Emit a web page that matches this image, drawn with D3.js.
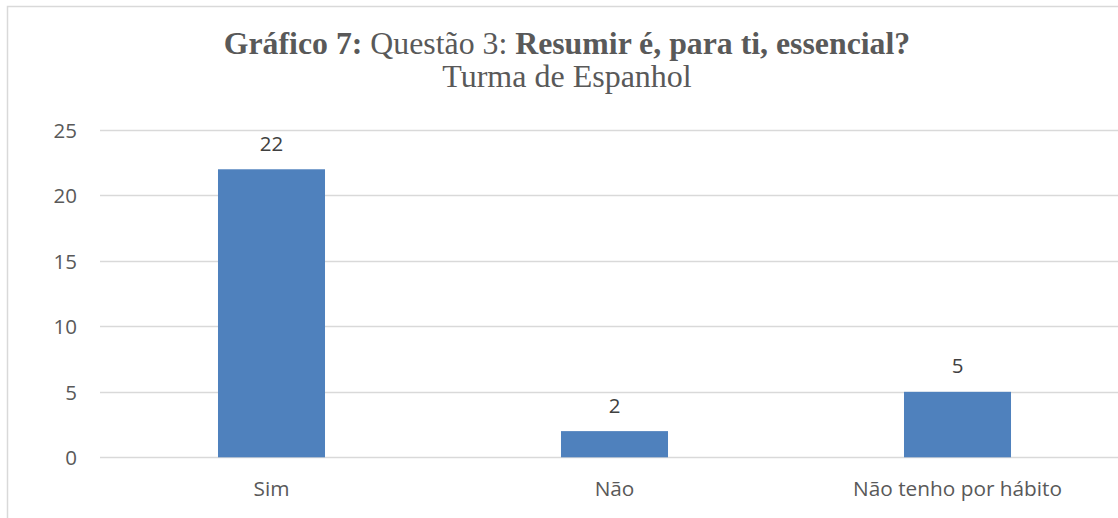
<!DOCTYPE html>
<html><head><meta charset="utf-8">
<script src="https://cdn.jsdelivr.net/npm/d3@7"></script>
<style>html,body{margin:0;padding:0;background:#fff;overflow:hidden}</style>
</head><body>
<svg id="c" width="1118" height="518"></svg>
<script>
const categories = ["Sim", "Não", "Não tenho por hábito"];
const values = [22, 2, 5];
const yTicks = [0, 5, 10, 15, 20, 25];

const svg = d3.select("#c");
svg.append("rect").attr("x", 7.5).attr("y", 6.5).attr("width", 1130).attr("height", 530)
  .attr("fill", "#fff").attr("stroke", "#d9d9d9").attr("stroke-width", 1.5);

const x = d3.scaleBand().domain(categories).range([100, 1129]).padding(0);
const y = d3.scaleLinear().domain([0, 25]).range([457.3, 130]);

// gridlines
svg.append("g").selectAll("line").data(yTicks).join("line")
  .attr("x1", 100).attr("x2", 1118)
  .attr("y1", d => Math.round(y(d)) + 0.5).attr("y2", d => Math.round(y(d)) + 0.5)
  .attr("stroke", "#d9d9d9").attr("stroke-width", 1.3);

// y axis labels
const yAxis = d3.axisLeft(y).tickValues(yTicks).tickSize(0).tickPadding(0);
const ga = svg.append("g").attr("transform", "translate(77,0)").call(yAxis);
ga.select(".domain").remove();
ga.selectAll("text").attr("fill", "#595959").style("font-family", "'Open Sans', sans-serif")
  .style("font-size", "20.5px").attr("dy", "0.36em");

// bars
const bw = x.bandwidth() * 0.312;
svg.append("g").selectAll("rect").data(values).join("rect")
  .attr("x", (d, i) => x(categories[i]) + x.bandwidth() / 2 - bw / 2)
  .attr("width", bw)
  .attr("y", d => y(d))
  .attr("height", d => y(0) - y(d))
  .attr("fill", "#4f81bd");

// data labels
svg.append("g").selectAll("text").data(values).join("text")
  .attr("x", (d, i) => x(categories[i]) + x.bandwidth() / 2)
  .attr("y", d => y(d) - 18.5)
  .attr("text-anchor", "middle").attr("fill", "#404040")
  .style("font-family", "'Open Sans', sans-serif").style("font-size", "20.5px")
  .text(d => d);

// x axis labels
const xAxis = d3.axisBottom(x).tickSize(0).tickPadding(0);
const gx = svg.append("g").attr("transform", "translate(0,496)").call(xAxis);
gx.select(".domain").remove();
gx.selectAll("text").attr("fill", "#595959").attr("dy", 0)
  .style("font-family", "'Open Sans', sans-serif").style("font-size", "20.8px");

// title
const t = svg.append("text").attr("x", 567).attr("y", 54).attr("text-anchor", "middle")
  .attr("fill", "#595959").style("font-family", "'Liberation Serif', serif").style("font-size", "31.8px");
t.append("tspan").attr("font-weight", "bold").text("Gráfico 7:");
t.append("tspan").text(" Questão 3: ");
t.append("tspan").attr("font-weight", "bold").text("Resumir é, para ti, essencial?");
svg.append("text").attr("x", 567).attr("y", 87).attr("text-anchor", "middle")
  .attr("fill", "#595959").style("font-family", "'Liberation Serif', serif").style("font-size", "32px")
  .text("Turma de Espanhol");
</script>
</body></html>
